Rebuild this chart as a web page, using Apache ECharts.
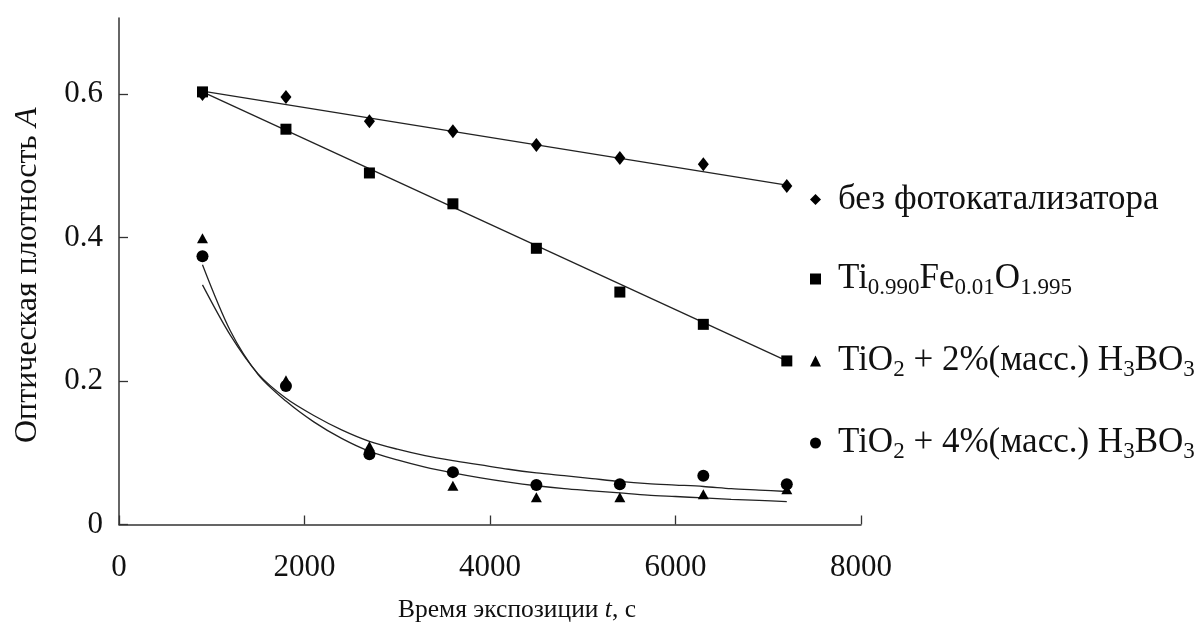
<!DOCTYPE html>
<html>
<head>
<meta charset="utf-8">
<script src="https://cdn.jsdelivr.net/npm/echarts@6/dist/echarts.min.js"></script>
<style>
  html, body { margin: 0; padding: 0; background: #fff; }
  #chart { width: 1195px; height: 624px; }
</style>
</head>
<body>
<div id="chart"></div>
<script>
// Exposure times, s
const exposureTimes = [900, 1800, 2700, 3600, 4500, 5400, 6300, 7200];

// Optical density A for each sample
const noCatalyst = [0.600, 0.596, 0.562, 0.548, 0.529, 0.511, 0.502, 0.472];
const tiFeOxide  = [0.603, 0.551, 0.490, 0.447, 0.385, 0.324, 0.279, 0.228];
const boric2     = [0.399, 0.201, 0.109, 0.054, 0.038, 0.038, 0.042, 0.049];
const boric4     = [0.374, 0.193, 0.098, 0.073, 0.055, 0.056, 0.068, 0.056];

// Linear trend end points
const noCatalystTrendX = [900, 7200];
const noCatalystTrendY = [0.604, 0.473];
const tiFeTrendX = [900, 7200];
const tiFeTrendY = [0.603, 0.228];

// Power-type trend curves for the boric acid samples
const curveX = [900, 1200, 1500, 1800, 2100, 2400, 2700, 3000, 3300, 3600, 3900,
                4200, 4500, 4800, 5100, 5400, 5700, 6000, 6300, 6600, 6900, 7200];
const boric2Curve = [0.362, 0.270, 0.209, 0.172, 0.143, 0.120, 0.102, 0.090, 0.080, 0.072, 0.065,
                     0.059, 0.054, 0.050, 0.047, 0.044, 0.041, 0.039, 0.037, 0.035, 0.0335, 0.032];
const boric4Curve = [0.334, 0.264, 0.210, 0.176, 0.152, 0.132, 0.116, 0.105, 0.096, 0.089, 0.083,
                     0.077, 0.072, 0.068, 0.064, 0.060, 0.057, 0.055, 0.053, 0.050, 0.048, 0.046];

// Axis ticks
const xTicks = [0, 2000, 4000, 6000, 8000];
const yTicks = [0, 0.2, 0.4, 0.6];

const names = {
  noCat: 'без фотокатализатора',
  tiFe: 'Ti0.990Fe0.01O1.995',
  b2: 'TiO2 + 2%(масс.) H3BO3',
  b4: 'TiO2 + 4%(масс.) H3BO3'
};
const legendRich = {};
legendRich[names.noCat] = '{n|без фотокатализатора}';
legendRich[names.tiFe] = '{n|Ti}{s|0.990}{n|Fe}{s|0.01}{n|O}{s|1.995}';
legendRich[names.b2] = '{n|TiO}{s|2}{n| + 2%(масс.) H}{s|3}{n|BO}{s|3}';
legendRich[names.b4] = '{n|TiO}{s|2}{n| + 4%(масс.) H}{s|3}{n|BO}{s|3}';

const pairs = (xs, ys) => xs.map((x, i) => [x, ys[i]]);

const FONT = '"Liberation Serif", "Times New Roman", serif';
const INK = '#111';
const LINE = '#222';

const trendLine = (xs, ys, smooth) => ({
  type: 'line',
  data: pairs(xs, ys),
  showSymbol: false,
  symbol: 'none',
  smooth: smooth ? 0.3 : false,
  lineStyle: { color: LINE, width: 1.3 },
  silent: true,
  z: 1
});

const scatter = (name, ys, symbol, size) => ({
  type: 'scatter',
  name: name,
  data: pairs(exposureTimes, ys),
  symbol: symbol,
  symbolSize: size,
  itemStyle: { color: '#000', opacity: 1 },
  z: 3
});

const chart = echarts.init(document.getElementById('chart'), null, { renderer: 'canvas' });

chart.setOption({
  backgroundColor: '#fff',
  animation: false,
  grid: { left: 119, right: 334, top: 18, bottom: 99.5, containLabel: false, outerBoundsMode: 'none' },
  xAxis: {
    type: 'value',
    min: 0, max: 8000, interval: 2000,
    name: 'Время экспозиции {i|t}, с',
    nameLocation: 'middle',
    nameGap: 73,
    nameTextStyle: {
      fontFamily: FONT, fontSize: 25.5, color: INK, padding: [0, 0, 0, 54],
      rich: { i: { fontFamily: FONT, fontSize: 25.5, fontStyle: 'italic', color: INK } }
    },
    axisLine: { show: true, lineStyle: { color: '#333', width: 1.5 } },
    axisTick: { show: true, inside: true, length: 9, lineStyle: { color: '#333', width: 1.3 }, customValues: xTicks },
    axisLabel: {
      fontFamily: FONT, fontSize: 31, color: INK, margin: 28, customValues: xTicks,
      formatter: v => String(v)
    },
    splitLine: { show: false }
  },
  yAxis: {
    type: 'value',
    min: 0, max: 0.706,
    name: 'Оптическая плотность {i|A}',
    nameLocation: 'middle',
    nameGap: 75,
    nameRotate: 90,
    nameTextStyle: {
      fontFamily: FONT, fontSize: 32, color: INK, padding: [0, 8, 0, 0],
      rich: { i: { fontFamily: FONT, fontSize: 32, fontStyle: 'italic', color: INK } }
    },
    axisLine: { show: true, lineStyle: { color: '#333', width: 1.5 } },
    axisTick: { show: true, inside: true, length: 9, lineStyle: { color: '#333', width: 1.3 }, customValues: yTicks },
    axisLabel: {
      fontFamily: FONT, fontSize: 31, color: INK, margin: 16, customValues: yTicks,
      formatter: v => (v === 0 ? '0' : v.toFixed(1))
    },
    splitLine: { show: false }
  },
  legend: {
    orient: 'vertical',
    left: 805,
    top: 177,
    itemGap: 44.5,
    itemWidth: 11,
    itemHeight: 11,
    selectedMode: false,
    data: [
      { name: names.noCat, icon: 'diamond' },
      { name: names.tiFe, icon: 'rect' },
      { name: names.b2, icon: 'triangle' },
      { name: names.b4, icon: 'circle' }
    ],
    formatter: name => legendRich[name],
    textStyle: {
      fontFamily: FONT, fontSize: 35, color: INK, padding: [0, 0, 0, 12],
      rich: {
        n: { fontFamily: FONT, fontSize: 35, color: INK, lineHeight: 40 },
        s: { fontFamily: FONT, fontSize: 23, color: INK, lineHeight: 40, verticalAlign: 'bottom' }
      }
    }
  },
  series: [
    trendLine(noCatalystTrendX, noCatalystTrendY, false),
    trendLine(tiFeTrendX, tiFeTrendY, false),
    trendLine(curveX, boric2Curve, true),
    trendLine(curveX, boric4Curve, true),
    scatter(names.noCat, noCatalyst, 'diamond', [11, 14]),
    scatter(names.tiFe, tiFeOxide, 'rect', 11),
    scatter(names.b2, boric2, 'triangle', [11, 10]),
    scatter(names.b4, boric4, 'circle', 12)
  ]
});
</script>
</body>
</html>
